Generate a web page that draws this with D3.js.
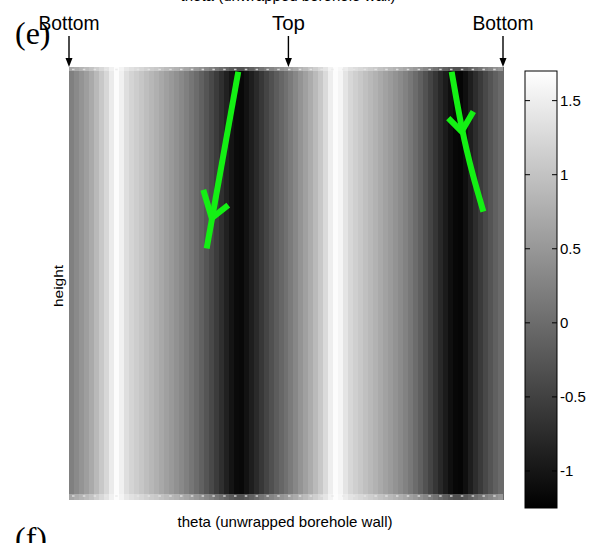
<!DOCTYPE html>
<html><head><meta charset="utf-8">
<script src="https://cdn.jsdelivr.net/npm/d3@7"></script>
<style>html,body{margin:0;padding:0;background:#fff;}svg{display:block;}</style>
</head><body>
<svg id="c" width="603" height="543"></svg>
<script>
// amplitude per column across the unwrapped borehole wall (left -> right)
const amplitude = [
 0.23,0.35,0.46,0.58,0.72,0.89,1.06,1.24,1.47,1.67,
 1.53,1.32,1.20,1.12,1.04,0.95,0.87,0.79,0.69,0.60,
 0.52,0.43,0.34,0.23,0.12,0.00,-0.13,-0.27,-0.41,-0.56,
 -0.71,-0.87,-1.02,-1.13,-1.16,-1.04,-0.90,-0.76,-0.61,-0.46,
 -0.32,-0.19,-0.07,0.05,0.17,0.31,0.46,0.60,0.74,0.90,
 1.06,1.27,1.50,1.67,1.58,1.39,1.24,1.15,1.06,0.97,
 0.89,0.81,0.72,0.62,0.54,0.45,0.36,0.25,0.14,0.00,
 -0.14,-0.30,-0.46,-0.63,-0.79,-0.94,-1.08,-1.17,-1.19,-1.08,
 -0.90,-0.73,-0.58,-0.42,-0.28,-0.14,-0.02
];
const colorDomain = [-1.25, 1.7];
const cbTicks = [-1, -0.5, 0, 0.5, 1, 1.5];
const cbTickLabels = ["-1", "-0.5", "0", "0.5", "1", "1.5"];
const markerLabels = ["Bottom", "Top", "Bottom"];
const markerTheta = [0, 182, 360];
// green arrows in (theta, depth) units
const arrow1Line = [[140.4,1.1],[114.2,41.9]];
const arrow1Head = [[111.4,28.4],[118.4,34.9],[132.1,31.9]];
const arrow2Line = [[317.4,1.1],[321.5,7.6],[325.7,13.8],[329.9,19.2],[335.4,25.3],[340.9,30.7],[343.7,33.4]];
const arrow2Head = [[314.6,11.8],[325.7,14.9],[335.4,10.3]];
const xTitle = "theta (unwrapped borehole wall)";
const yTitle = "height";

const svg = d3.select("#c");
const L = 69, R = 503, T = 67, B = 500;
const xBand = d3.scaleBand().domain(d3.range(amplitude.length)).range([L, R]).padding(0);
const x = d3.scaleLinear().domain([0, 360]).range([L, R]);
const y = d3.scaleLinear().domain([0, 100]).range([T, B]);
const color = d3.scaleLinear().domain(colorDomain).range(["#000000", "#ffffff"]).clamp(true);

// image columns
svg.append("g").selectAll("rect").data(amplitude).join("rect")
  .attr("x", (d, i) => xBand(i))
  .attr("y", y(0))
  .attr("width", xBand.bandwidth() + 0.6)
  .attr("height", y(100) - y(0))
  .attr("fill", d => color(d))
  .attr("shape-rendering", "crispEdges");

// light dotted rows at top and bottom edges
svg.append("rect").attr("x", L).attr("y", y(0)).attr("width", R - L).attr("height", 4)
  .attr("fill", "#fff").attr("opacity", 0.3);
svg.append("rect").attr("x", L).attr("y", y(100) - 6).attr("width", R - L).attr("height", 6)
  .attr("fill", "#fff").attr("opacity", 0.3);
[y(0) + 2.5, y(100) - 4].forEach(yy => {
  svg.append("line").attr("x1", L + 3).attr("x2", R).attr("y1", yy).attr("y2", yy)
    .attr("stroke", "#e8e8e8").attr("stroke-width", 1.6).attr("stroke-dasharray", "2.5,8.3").attr("opacity", 0.8);
});

// green arrows
const line = d3.line().x(d => x(d[0])).y(d => y(d[1]));
const curve = d3.line().curve(d3.curveCatmullRom).x(d => x(d[0])).y(d => y(d[1]));
const green = "#14f014";
[[arrow1Line, line], [arrow2Line, curve], [arrow1Head, line], [arrow2Head, line]].forEach(([pts, gen]) => {
  svg.append("path").attr("d", gen(pts)).attr("fill", "none").attr("stroke", green)
    .attr("stroke-width", 6).attr("stroke-linecap", "butt").attr("stroke-linejoin", "round");
});

// marker labels + arrows
markerTheta.forEach((t, i) => {
  const px = x(t);
  svg.append("line").attr("x1", px).attr("x2", px).attr("y1", 36).attr("y2", T - 6)
    .attr("stroke", "#000").attr("stroke-width", 1.4);
  svg.append("path").attr("d", `M${px - 3.5},${T - 9}L${px + 3.5},${T - 9}L${px},${T}Z`).attr("fill", "#000");
  const tx = svg.append("text").attr("x", px).attr("y", 30).attr("text-anchor", "middle")
    .attr("font-family", "Liberation Sans, Arial, sans-serif").attr("font-size", 21)
    .attr("fill", "#000").text(markerLabels[i]);
  tx.attr("textLength", markerLabels[i] === "Top" ? 33 : 61).attr("lengthAdjust", "spacingAndGlyphs");
});

// panel letters
svg.append("text").attr("x", 15).attr("y", 44).attr("font-family", "Liberation Serif, Times New Roman, serif")
  .attr("font-size", 32).attr("fill", "#000").text("(e)");
svg.append("text").attr("x", 15).attr("y", 549).attr("font-family", "Liberation Serif, Times New Roman, serif")
  .attr("font-size", 32).attr("fill", "#000").text("(f)");

// axis titles
svg.append("text").attr("x", 285).attr("y", 527).attr("text-anchor", "middle")
  .attr("font-family", "Liberation Sans, Arial, sans-serif").attr("font-size", 15)
  .attr("textLength", 215).attr("lengthAdjust", "spacingAndGlyphs").attr("fill", "#000").text(xTitle);
svg.append("text").attr("x", 288).attr("y", 1).attr("text-anchor", "middle")
  .attr("font-family", "Liberation Sans, Arial, sans-serif").attr("font-size", 15)
  .attr("textLength", 215).attr("lengthAdjust", "spacingAndGlyphs").attr("fill", "#000").text(xTitle);
svg.append("text").attr("transform", "translate(63,286) rotate(-90)").attr("text-anchor", "middle")
  .attr("font-family", "Liberation Sans, Arial, sans-serif").attr("font-size", 12)
  .attr("textLength", 42).attr("lengthAdjust", "spacingAndGlyphs").attr("fill", "#000").text(yTitle);

// colorbar
const cbL = 525, cbR = 557, cbT = 71, cbB = 508;
const cy = d3.scaleLinear().domain(colorDomain).range([cbB, cbT]);
const grad = svg.append("defs").append("linearGradient").attr("id", "cbg")
  .attr("x1", 0).attr("x2", 0).attr("y1", 1).attr("y2", 0);
colorDomain.forEach((v, i) => grad.append("stop").attr("offset", i).attr("stop-color", color(v)));
svg.append("rect").attr("x", cbL).attr("y", cbT).attr("width", cbR - cbL).attr("height", cbB - cbT)
  .attr("fill", "url(#cbg)").attr("stroke", "#000").attr("stroke-width", 1);
const cbAxis = d3.axisRight(cy).tickValues(cbTicks).tickSize(0).tickPadding(3)
  .tickFormat((d, i) => cbTickLabels[i]);
const ga = svg.append("g").attr("transform", `translate(${cbR},0)`).call(cbAxis);
ga.select(".domain").remove();
ga.selectAll("text").attr("font-family", "Liberation Sans, Arial, sans-serif").attr("font-size", 15).attr("fill", "#000");
cbTicks.forEach(t => {
  svg.append("line").attr("x1", cbL).attr("x2", cbL + 5).attr("y1", cy(t)).attr("y2", cy(t)).attr("stroke", "#000");
  svg.append("line").attr("x1", cbR - 5).attr("x2", cbR).attr("y1", cy(t)).attr("y2", cy(t)).attr("stroke", "#000");
});
</script>
</body></html>
